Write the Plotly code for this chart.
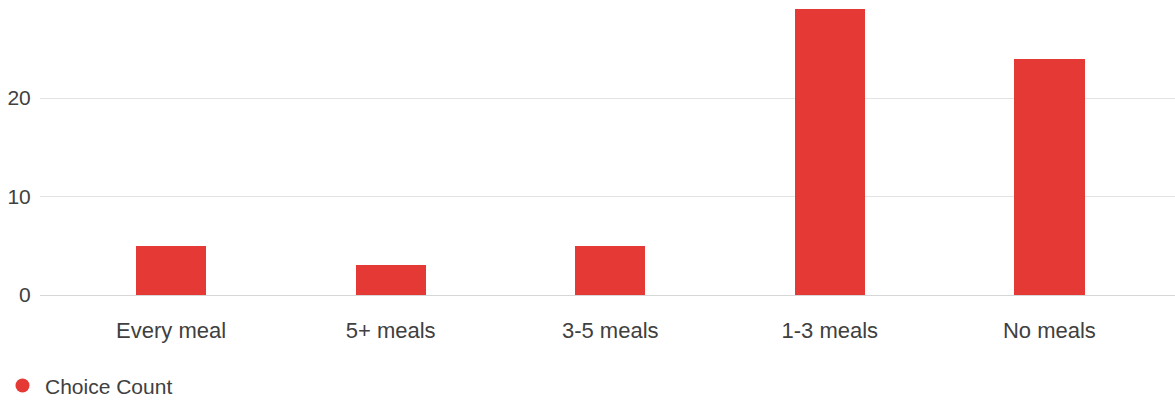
import plotly.graph_objects as go

categories = ["Every meal", "5+ meals", "3-5 meals", "1-3 meals", "No meals"]
choice_counts = [5, 3, 5, 29, 24]
series_name = "Choice Count"
y_ticks = [0, 10, 20]

bar_color = "#e53935"
text_color = "#404040"
font_family = "Liberation Sans, Arial, sans-serif"

fig = go.Figure()

fig.add_trace(go.Bar(
    x=categories,
    y=choice_counts,
    name=series_name,
    marker=dict(color=bar_color, line=dict(width=0)),
    width=0.32,
    showlegend=False,
))

# Legend entry drawn with a round swatch
fig.add_trace(go.Scatter(
    x=[None],
    y=[None],
    mode="markers",
    name=series_name,
    marker=dict(color=bar_color, size=14, symbol="circle"),
    showlegend=True,
))

fig.update_layout(
    width=1175,
    height=400,
    margin=dict(l=40, r=0, t=0, b=105, autoexpand=False),
    paper_bgcolor="white",
    plot_bgcolor="white",
    font=dict(family=font_family, color=text_color, size=20),
    bargap=0,
    legend=dict(
        orientation="h",
        xref="container",
        yref="paper",
        x=0.0,
        y=-0.308,
        xanchor="left",
        yanchor="middle",
        font=dict(size=21, color=text_color),
        itemwidth=35,
    ),
)

fig.update_xaxes(
    type="category",
    range=[-0.597, 4.572],
    showgrid=False,
    showline=False,
    zeroline=False,
    ticks="outside",
    ticklen=16,
    tickcolor="rgba(0,0,0,0)",
    tickfont=dict(size=22, color=text_color),
)

fig.update_yaxes(
    range=[0, 29.95],
    tickvals=y_ticks,
    showgrid=True,
    gridcolor="#e3e3e3",
    gridwidth=1,
    zeroline=True,
    zerolinecolor="#d6d6d6",
    zerolinewidth=1,
    showline=False,
    ticks="outside",
    ticklen=4,
    tickcolor="rgba(0,0,0,0)",
    tickfont=dict(size=21, color=text_color),
)

fig.write_html("out.html")
